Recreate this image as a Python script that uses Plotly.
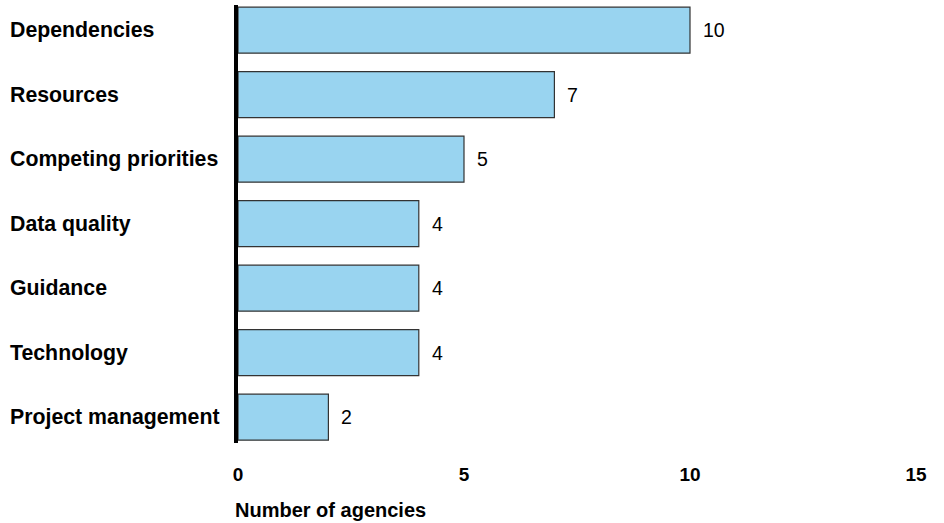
import plotly.graph_objects as go

categories = ["Dependencies", "Resources", "Competing priorities", "Data quality",
              "Guidance", "Technology", "Project management"]
values = [10, 7, 5, 4, 4, 4, 2]
x_ticks = [0, 5, 10, 15]
x_title = "Number of agencies"

FONT = "Liberation Sans, Arial, sans-serif"

fig = go.Figure()
fig.add_trace(go.Bar(
    x=values, y=categories, orientation="h",
    marker=dict(color="#99D4F0", line=dict(color="#333333", width=1.2)),
    hoverinfo="x+y",
))

annotations = []
for c in categories:
    annotations.append(dict(
        x=0, xref="paper", xshift=-230, y=c, yref="y",
        text=f"<b>{c}</b>", showarrow=False, xanchor="left", yanchor="middle",
        font=dict(family=FONT, size=21.3, color="black")))
for c, v in zip(categories, values):
    annotations.append(dict(
        x=v, xref="x", y=c, yref="y", xshift=11,
        text=str(v), showarrow=False, xanchor="left", yanchor="middle",
        font=dict(family=FONT, size=19.5, color="black")))
annotations.append(dict(
    x=0, xref="paper", xshift=-5, y=0, yref="paper", yshift=-67,
    text=f"<b>{x_title}</b>", showarrow=False, xanchor="left", yanchor="middle",
    font=dict(family=FONT, size=20, color="black")))

fig.update_layout(
    width=944, height=523,
    margin=dict(l=238, r=28, t=5, b=80),
    paper_bgcolor="white", plot_bgcolor="white",
    showlegend=False,
    bargap=0.287,
    annotations=annotations,
    xaxis=dict(range=[0, 15], tickvals=x_ticks, ticktext=[f"<b>{t}</b>" for t in x_ticks],
               showgrid=False, zeroline=False, showline=False, ticks="",
               ticklabelstandoff=18,
               tickfont=dict(family=FONT, size=19, color="black")),
    yaxis=dict(categoryorder="array", categoryarray=categories,
               range=[6.4, -0.39], showticklabels=False, showgrid=False,
               zeroline=False, showline=True, linewidth=4, linecolor="black",
               ticks=""),
)

fig.write_html("out.html")
